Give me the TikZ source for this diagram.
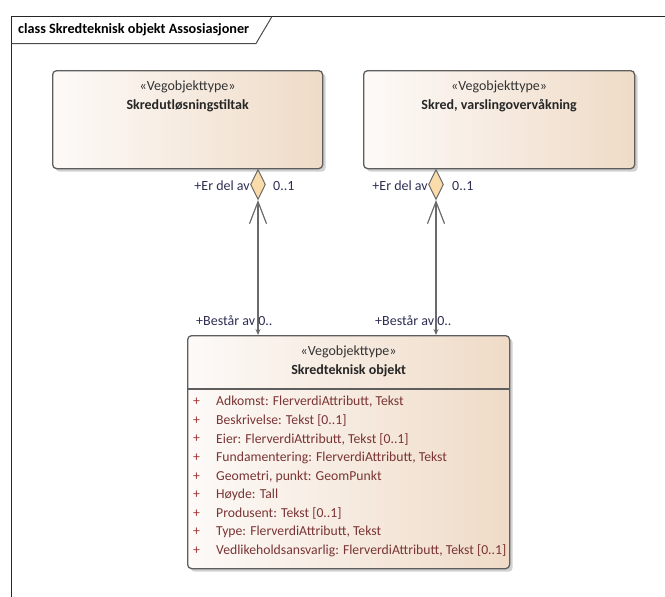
\documentclass[tikz,border=0pt]{standalone}
\usepackage{fontspec}
\setmainfont{Carlito}
\usetikzlibrary{arrows.meta,shapes.geometric,calc,shadows}
\definecolor{boxline}{HTML}{5E5E5E}
\definecolor{boxleft}{HTML}{FDFAF8}
\definecolor{boxright}{HTML}{EFDBC7}
\definecolor{attrcol}{HTML}{7A3434}
\definecolor{pluscol}{HTML}{A03434}
\definecolor{lblcol}{HTML}{2E2E55}
\definecolor{diafill}{HTML}{FADBAA}
\definecolor{conn}{HTML}{6A6A6A}
\tikzset{
  classbox/.style={draw=boxline, line width=1.3pt, rounded corners=4pt,
    left color=boxleft, right color=boxright, inner sep=0pt,
    drop shadow={shadow xshift=3pt, shadow yshift=-3pt, fill=black!30, opacity=0.6}},
  stereo/.style={font=\fontsize{14}{16}\selectfont, text=black!80, inner sep=0pt},
  cname/.style={font=\fontsize{14}{16}\selectfont\bfseries, text=black!85, inner sep=0pt},
  attr/.style={font=\fontsize{13.7}{16}\selectfont, text=attrcol, inner sep=0pt, anchor=west},
  plus/.style={font=\fontsize{13.7}{16}\selectfont, text=pluscol, inner sep=0pt},
  lbl/.style={font=\fontsize{14}{16}\selectfont, text=lblcol, inner sep=0pt},
  agg/.style={diamond, draw=conn, fill=diafill, line width=1pt, inner sep=0pt,
    minimum width=15pt, minimum height=30pt, aspect=0.5},
  assoc/.style={draw=conn, line width=1.2pt,
    {Straight Barb[length=22pt,width=17pt,line width=1.2pt]}-{Stealth[length=6pt,width=5pt]}},
}
\begin{document}
\begin{tikzpicture}[x=1pt,y=-1pt]
\useasboundingbox (0,0) rectangle (665,597);
% frame
\coordinate (fl) at (11.5,597);
\coordinate (ftl) at (11.5,16.5);
\coordinate (ftr) at (665,16.5);
\draw[line width=1.5pt, black!85] (fl) -- (ftl) -- (ftr);
\coordinate (tabr) at (272,16.5);
\coordinate (tabs) at (256,43.5);
\coordinate (tabl) at (11.5,43.5);
\draw[line width=1pt, black!70] (tabr) -- (tabs) -- (tabl);
\node[anchor=west, inner sep=0pt, font=\fontsize{14.2}{16}\selectfont\bfseries] (title) at (18,30) {class Skredteknisk objekt Assosiasjoner};
% boxes
\node[classbox, minimum width=270pt, minimum height=98pt, anchor=north west] (b1) at (52,70) {};
\node[classbox, minimum width=271pt, minimum height=98pt, anchor=north west] (b2) at (363,70) {};
\node[classbox, minimum width=322pt, minimum height=233pt, anchor=north west] (b3) at (187,335) {};
\node[stereo] (s1) at ($(b1.north)+(0,17)$) {«Vegobjekttype»};
\node[cname] (n1) at ($(b1.north)+(0,36)$) {Skredutløsningstiltak};
\node[stereo] (s2) at ($(b2.north)+(0,17)$) {«Vegobjekttype»};
\node[cname] (n2) at ($(b2.north)+(0,36)$) {Skred, varslingovervåkning};
\node[stereo] (s3) at ($(b3.north)+(0,17)$) {«Vegobjekttype»};
\node[cname] (n3) at ($(b3.north)+(0,36)$) {Skredteknisk objekt};
\coordinate (sepl) at (187,389);
\coordinate (sepr) at (509,389);
\draw[boxline, line width=1.2pt] (sepl) -- (sepr);
% attributes
\foreach \t [count=\i] in {
  {Adkomst: FlerverdiAttributt, Tekst},
  {Beskrivelse: Tekst [0..1]},
  {Eier: FlerverdiAttributt, Tekst [0..1]},
  {Fundamentering: FlerverdiAttributt, Tekst},
  {Geometri, punkt: GeomPunkt},
  {Høyde: Tall},
  {Produsent: Tekst [0..1]},
  {Type: FlerverdiAttributt, Tekst},
  {Vedlikeholdsansvarlig: FlerverdiAttributt, Tekst [0..1]}} {
  \node[plus] (p\i) at (196.5,{402+(\i-1)*18.6}) {+};
  \node[attr] (a\i) at (216,{402+(\i-1)*18.6}) {\t};
}
% aggregations
\node[agg, anchor=north] (d1) at (258,169) {};
\node[agg, anchor=north] (d2) at (436,169) {};
\coordinate (e1) at (258,335);
\coordinate (e2) at (436,335);
\draw[assoc] (d1.south) -- (e1);
\draw[assoc] (d2.south) -- (e2);
% labels
\node[lbl, anchor=east] (l1) at (250,186) {+Er del av};
\node[lbl, anchor=west] (m1) at (273,186) {0..1};
\node[lbl, anchor=east] (l2) at (428,186) {+Er del av};
\node[lbl, anchor=west] (m2) at (452,186) {0..1};
\node[lbl, anchor=west] (r1) at (196,321) {+Består av 0..};
\node[lbl, anchor=west] (r2) at (375,321) {+Består av 0..};
\end{tikzpicture}
\end{document}
